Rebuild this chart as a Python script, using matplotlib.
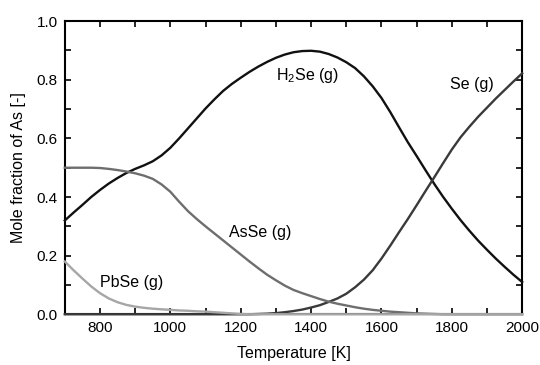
import matplotlib
matplotlib.use("Agg")
import matplotlib.pyplot as plt
from matplotlib.ticker import MultipleLocator

plt.rcParams['font.family'] = ['Liberation Sans', 'DejaVu Sans']
plt.rcParams['mathtext.fontset'] = 'custom'
plt.rcParams['mathtext.rm'] = 'Liberation Sans'

# temperatura em K, passo de 25
temp = list(range(700, 2001, 25))

h2se = [0.320, 0.347, 0.373, 0.400,
        0.424, 0.446, 0.465, 0.482, 0.496, 0.508, 0.522, 0.542,
        0.568, 0.600, 0.634, 0.668, 0.702, 0.733, 0.762, 0.786,
        0.807, 0.827, 0.845, 0.861, 0.875, 0.886, 0.894, 0.898,
        0.899, 0.896, 0.888, 0.876, 0.860, 0.840, 0.812, 0.778,
        0.738, 0.690, 0.638, 0.587, 0.540, 0.492, 0.445, 0.401,
        0.360, 0.321, 0.285, 0.251, 0.220, 0.190, 0.162, 0.135,
        0.110]

se = [0.0, 0.0, 0.0, 0.0,
      0.0, 0.0, 0.0, 0.0, 0.0, 0.0, 0.0, 0.0,
      0.0, 0.0, 0.0, 0.0, 0.0, 0.0, 0.0, 0.0,
      0.0, 0.0, 0.001, 0.002, 0.004, 0.007, 0.011, 0.016,
      0.023, 0.031, 0.042, 0.054, 0.070, 0.092, 0.118, 0.150,
      0.190, 0.234, 0.280, 0.325, 0.372, 0.420, 0.467, 0.515,
      0.562, 0.604, 0.640, 0.674, 0.705, 0.736, 0.765, 0.794,
      0.822]

asse = [0.500, 0.500, 0.500, 0.500,
        0.499, 0.496, 0.492, 0.487, 0.481, 0.473, 0.462, 0.443,
        0.418, 0.384, 0.352, 0.325, 0.300, 0.276, 0.252, 0.228,
        0.204, 0.180, 0.157, 0.135, 0.116, 0.098, 0.083, 0.072,
        0.062, 0.052, 0.043, 0.036, 0.030, 0.024, 0.019, 0.015,
        0.012, 0.009, 0.007, 0.005, 0.003, 0.002, 0.001, 0.0,
        0.0, 0.0, 0.0, 0.0, 0.0, 0.0, 0.0, 0.0,
        0.0]

pbse = [0.180, 0.150, 0.122, 0.095,
        0.072, 0.054, 0.041, 0.032, 0.026, 0.022, 0.019, 0.017,
        0.015, 0.013, 0.012, 0.010, 0.009, 0.007, 0.005, 0.003,
        0.001, 0.0, 0.0, 0.0, 0.0, 0.0, 0.0, 0.0,
        0.0, 0.0, 0.0, 0.0, 0.0, 0.0, 0.0, 0.0,
        0.0, 0.0, 0.0, 0.0, 0.0, 0.0, 0.0, 0.0,
        0.0, 0.0, 0.0, 0.0, 0.0, 0.0, 0.0, 0.0,
        0.0]

fig = plt.figure(figsize=(5.4, 3.65), dpi=100)
ax = fig.add_axes([0.12, 0.139, 0.847, 0.803])

ax.plot(temp, h2se, color='#111111', lw=1.7, clip_on=False, zorder=3)
ax.plot(temp, se, color='#3a3a3a', lw=1.7, clip_on=False, zorder=3)
ax.plot(temp, asse, color='#6e6e6e', lw=1.7, clip_on=False, zorder=3)
ax.plot(temp, pbse, color='#a6a6a6', lw=1.7, clip_on=False, zorder=3)

ax.text(1389, 0.816, 'H$_2$Se (g)', ha='center', va='center', fontsize=11.5)
ax.text(1858, 0.785, 'Se (g)', ha='center', va='center', fontsize=11.5)
ax.text(1255, 0.28, 'AsSe (g)', ha='center', va='center', fontsize=11.5)
ax.text(891, 0.11, 'PbSe (g)', ha='center', va='center', fontsize=11.5)

ax.set_xlim(700, 2000)
ax.set_ylim(0, 1.0)
ax.xaxis.set_major_locator(MultipleLocator(200))
ax.xaxis.set_minor_locator(MultipleLocator(100))
ax.yaxis.set_major_locator(MultipleLocator(0.2))
ax.yaxis.set_minor_locator(MultipleLocator(0.1))
ax.yaxis.set_major_formatter(plt.FormatStrFormatter('%.1f'))
ax.tick_params(which='both', direction='in', top=True, right=True,
               length=4, width=1.2, labelsize=11, pad=5)
for s in ax.spines.values():
    s.set_linewidth(1.5)

ax.set_xlabel('Temperature [K]', fontsize=11.5, labelpad=8)
ax.set_ylabel('Mole fraction of As [-]', fontsize=11.5, labelpad=8)

fig.savefig('out.png', dpi=100)
